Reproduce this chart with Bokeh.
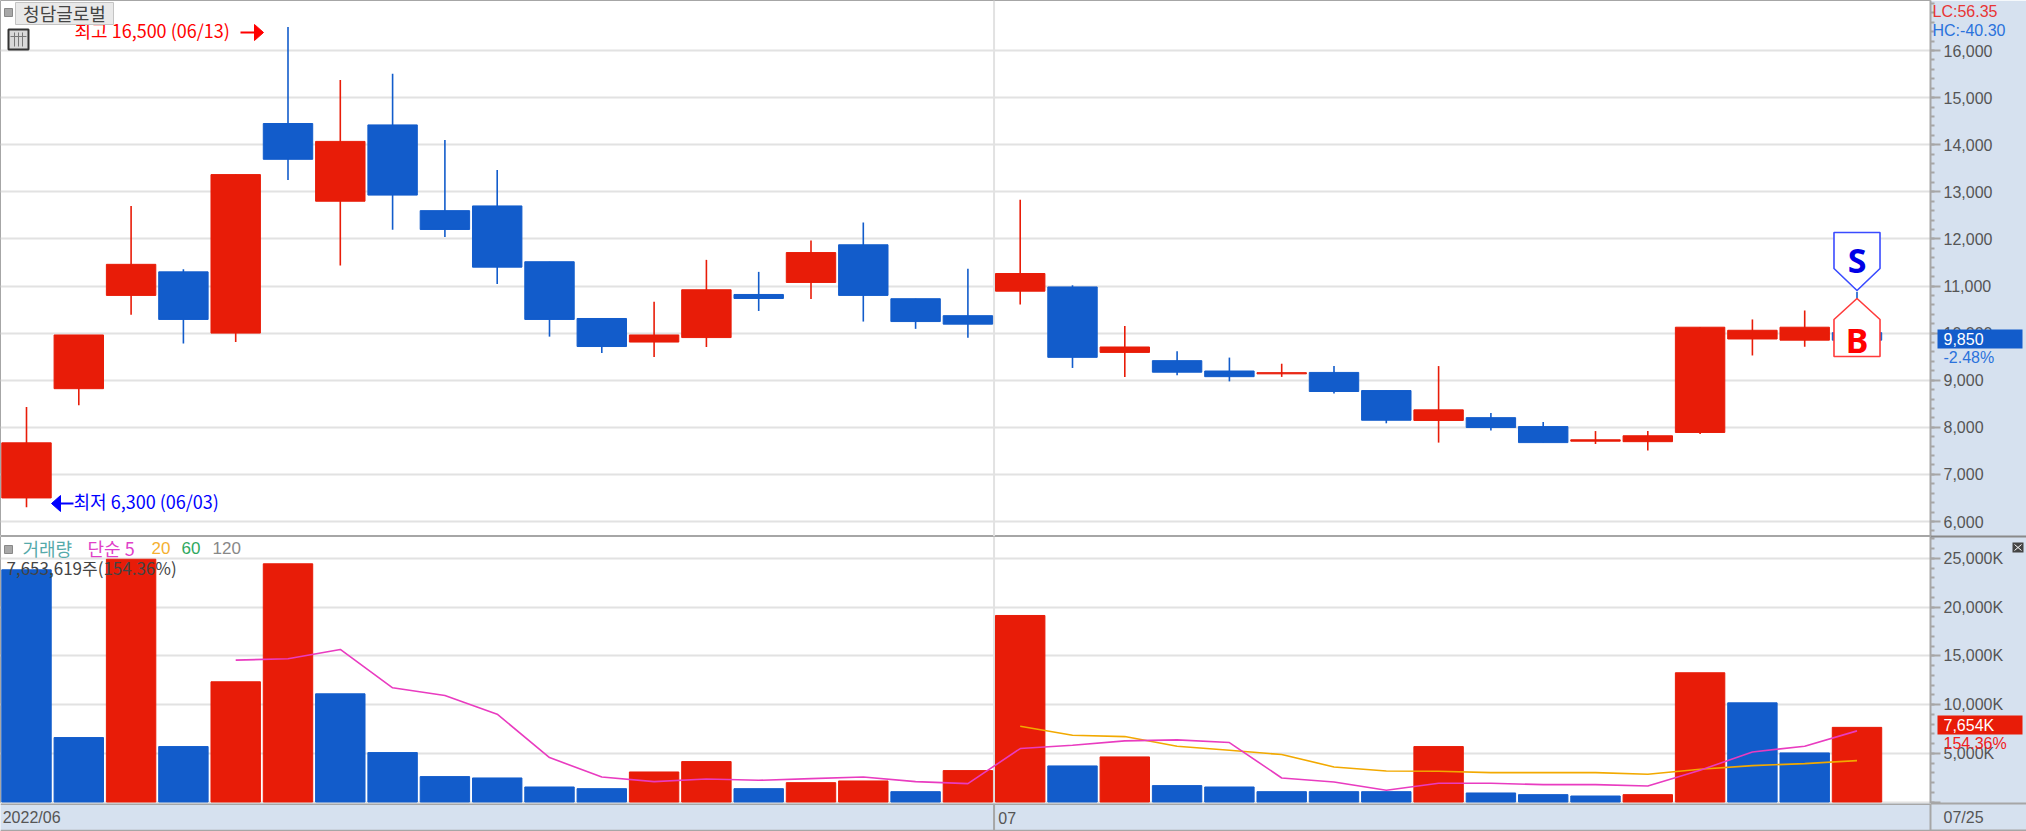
from bokeh.plotting import figure
from bokeh.layouts import column, row
from bokeh.models import Range1d, FixedTicker, NumeralTickFormatter, Span
from bokeh.core.properties import value
from bokeh.embed import file_html
from bokeh.resources import INLINE

# ---------- data ----------
opens  = [6500, 8820, 10800, 11300, 10000, 14450, 12800, 14420, 12600, 12700, 11515, 10310, 9810, 9905, 10820, 11075, 11875, 10730, 10370, 10890, 10980, 9590, 9415, 9195, 9135, 9165, 8780, 8145, 8205, 8015, 7705, 7695, 7890, 9875, 9850, 10010]
closes = [7670, 9960, 11460, 10290, 13365, 13690, 14070, 12930, 12200, 11400, 10290, 9715, 9960, 10920, 10735, 11710, 10800, 10245, 10190, 11265, 9485, 9705, 9170, 9075, 9160, 8760, 8150, 8370, 7995, 7675, 7735, 7820, 10125, 10060, 10125, 9850]
highs  = [8430, 9960, 12700, 11355, 13365, 16500, 15375, 15505, 14100, 13465, 11515, 10310, 10665, 11555, 11300, 11965, 12350, 10730, 11365, 12830, 11015, 10150, 9615, 9480, 9350, 9300, 8780, 9300, 8305, 8115, 7920, 7920, 10125, 10290, 10480, 10880]
lows   = [6300, 8470, 10390, 9780, 9810, 13250, 11435, 12195, 12040, 11045, 9925, 9580, 9490, 9705, 10470, 10725, 10245, 10090, 9900, 10605, 9260, 9070, 9105, 8975, 9070, 8720, 8085, 7675, 7930, 7675, 7645, 7510, 7860, 9525, 9710, 9500]
volumes = [23815, 6610, 24900, 5685, 12330, 24430, 11095, 5070, 2605, 2465, 1540, 1370, 3080, 4145, 1370, 1985, 2160, 1060, 3220, 19130, 3700, 4625, 1680, 1540, 1060, 1060, 1060, 5685, 925, 755, 615, 755, 13255, 10170, 5035, 7654]
vol_up = [0, 0, 1, 0, 1, 1, 0, 0, 0, 0, 0, 0, 1, 1, 0, 1, 1, 0, 1, 1, 0, 1, 0, 0, 0, 0, 0, 1, 0, 0, 0, 1, 1, 0, 0, 1]
ma5_idx = list(range(4, 36))
ma5  = [14555, 14690, 15650, 11710, 10925, 9005, 4555, 2570, 2090, 2365, 2225, 2395, 2570, 2090, 1885, 5480, 5820, 6265, 6370, 6095, 2465, 2055, 1200, 1920, 1920, 1780, 1780, 1645, 3255, 5135, 5720, 7295]
ma20_idx = list(range(19, 36))
ma20 = [7775, 6850, 6710, 5720, 5310, 4865, 3595, 3185, 3150, 3015, 3015, 3015, 2840, 3355, 3735, 3940, 4245]
price_ticks = list(range(6000, 17000, 1000))
price_minor = list(range(5800, 17200, 200))
vol_ticks = [0, 5000, 10000, 15000, 20000, 25000]
vol_labels = ["", "5,000K", "10,000K", "15,000K", "20,000K", "25,000K"]
vol_minor = list(range(0, 27200, 1000))
date_labels = ["2022/06", "07"]
date_pos = [-0.455, 18.58]
last_date = "07/25"
month_start = 18.5

# ---------- style ----------
RED, BLUE = "#E81C08", "#125CCB"
GRID, AXBG, AXLINE, TXT = "#E2E2E2", "#D6E1EF", "#A6A6A6", "#555555"
LAT, KR = "Liberation Sans", "Noto Sans CJK KR"
FS = "16px"
PITCH, X0 = 52.3, 26.0
FRAME_W, TOTAL_W, RIGHT = 1930, 2026, 96
XR = (-X0 / PITCH, (FRAME_W - X0) / PITCH)

def X(px):  return (px - X0) / PITCH
def PY(py): return 16000 - (py - 50) / 47.1 * 1000
def VY(py): return (801.5 - py) / 48.75 * 5000

cols = [RED if c >= o else BLUE for o, c in zip(opens, closes)]
vcols = [RED if u else BLUE for u in vol_up]
xs = list(range(len(opens)))

def style_axis(ax):
    ax.axis_line_color = AXLINE; ax.axis_line_width = 2
    ax.major_tick_line_color = AXLINE; ax.minor_tick_line_color = AXLINE
    ax.major_tick_line_width = 2; ax.minor_tick_line_width = 2
    ax.major_tick_in = 0; ax.major_tick_out = 10
    ax.minor_tick_in = 0; ax.minor_tick_out = 4
    ax.major_label_standoff = 3
    ax.major_label_text_color = TXT
    ax.major_label_text_font = LAT
    ax.major_label_text_font_size = FS

def base(h, yr):
    p = figure(width=TOTAL_W, height=h, x_range=Range1d(*XR), y_range=Range1d(*yr),
               toolbar_location=None, output_backend="svg", x_axis_location=None,
               y_axis_location="right", min_border_left=0, min_border_top=0,
               min_border_bottom=0, min_border_right=RIGHT,
               background_fill_color="white", border_fill_color=AXBG,
               outline_line_color=AXLINE, outline_line_width=1)
    style_axis(p.yaxis[0])
    p.xgrid.visible = False
    p.ygrid.grid_line_color = GRID; p.ygrid.grid_line_width = 2
    p.add_layout(Span(location=month_start, dimension="height", line_color=GRID, line_width=2, level="underlay"))
    return p

def txt(p, x, y, s, color, font=KR, size="18px", align="left", style="normal"):
    p.text(x=[x], y=[y], text=[s], text_color=color, text_font=value(font), text_font_size=size,
           text_align=align, text_baseline="middle", text_font_style=style)

# ---------- price panel ----------
P_H = 536
p = base(P_H, (PY(P_H), PY(0)))
p.yaxis[0].ticker = FixedTicker(ticks=price_ticks, minor_ticks=price_minor)
p.ygrid[0].ticker = FixedTicker(ticks=price_ticks)
p.yaxis[0].formatter = NumeralTickFormatter(format="0,0")
p.segment(xs, highs, xs, lows, line_color=cols, line_width=1.6)
p.vbar(x=xs, width=0.945, bottom=opens, top=closes, fill_color=cols, line_color=cols, line_width=1)

# S / B signal tags on the last candle
L = len(opens) - 1
hw = 0.44
p.patch([L-hw, L+hw, L+hw, L, L-hw], [PY(232), PY(232), PY(268), PY(290), PY(268)],
        fill_color="white", line_color="#3A4BFF", line_width=1.6)
p.patch([L-hw, L+hw, L+hw, L, L-hw], [PY(356), PY(356), PY(319), PY(298), PY(319)],
        fill_color="white", line_color="#FF3B3B", line_width=1.6)
txt(p, L, PY(259), "S", "#0000E6", font="Noto Sans", size="34px", align="center", style="bold")
txt(p, L, PY(339), "B", "#FF0000", font="Noto Sans", size="34px", align="center", style="bold")

# high / low notes
txt(p, X(74), PY(29), "최고 16,500 (06/13)", "#FF0000")
p.segment([X(240)], [PY(32)], [X(256)], [PY(32)], line_color="#FF0000", line_width=2)
p.patch([X(254), X(263), X(254)], [PY(24), PY(32), PY(40)], fill_color="#FF0000", line_color="#FF0000")
txt(p, X(73), PY(500), "최저 6,300 (06/03)", "#0000FF")
p.segment([X(58)], [PY(503)], [X(73)], [PY(503)], line_color="#0000FF", line_width=2)
p.patch([X(60), X(51), X(60)], [PY(495), PY(503), PY(511)], fill_color="#0000FF", line_color="#0000FF")

# title button and icons
p.quad(left=[X(15)], right=[X(113)], top=[PY(2)], bottom=[PY(24)], fill_color="#E9E9E9", line_color="#C4C4C4")
txt(p, X(64), PY(12), "청담글로벌", "#444444", align="center")
p.quad(left=[X(4)], right=[X(12)], top=[PY(8)], bottom=[PY(16)], fill_color="#A8A8A8", line_color="#888888")
p.quad(left=[X(8)], right=[X(28)], top=[PY(29)], bottom=[PY(49)], fill_color="#D8D8D8", line_color="#333333", line_width=2)
p.segment([X(14), X(18), X(22), X(10)], [PY(32), PY(32), PY(32), PY(36)],
          [X(14), X(18), X(22), X(26)], [PY(46), PY(46), PY(46), PY(36)], line_color="#777777", line_width=1)

# ---------- volume panel ----------
V_H = 267
q = base(V_H, (VY(803), VY(536)))
q.yaxis[0].ticker = FixedTicker(ticks=vol_ticks, minor_ticks=vol_minor)
q.ygrid[0].ticker = FixedTicker(ticks=vol_ticks)
q.yaxis[0].major_label_overrides = dict(zip(vol_ticks, vol_labels))
q.vbar(x=xs, width=0.945, bottom=0, top=volumes, fill_color=vcols, line_color=vcols, line_width=1)
q.line(ma20_idx, ma20, line_color="#F2A900", line_width=1.6)
q.line(ma5_idx, ma5, line_color="#E93CC0", line_width=1.6)

q.quad(left=[X(4)], right=[X(12)], top=[VY(545)], bottom=[VY(553)], fill_color="#A8A8A8", line_color="#888888")
txt(q, X(22), VY(547), "거래량", "#55AAAA")
txt(q, X(87), VY(547), "단순 5", "#E040C8")
txt(q, X(151), VY(547), "20", "#F5B030", font=LAT, size="17px")
txt(q, X(181), VY(547), "60", "#30A860", font=LAT, size="17px")
txt(q, X(212), VY(547), "120", "#888888", font=LAT, size="17px")
txt(q, X(6), VY(567), "7,653,619주(154.36%)", "#444444", size="17px")

# ---------- date strip ----------
S_H = 28
s = figure(width=TOTAL_W, height=S_H, x_range=Range1d(*XR), y_range=Range1d(0, 1),
           toolbar_location=None, output_backend="svg", x_axis_location=None, y_axis_location="right",
           min_border_left=0, min_border_top=0, min_border_bottom=0, min_border_right=RIGHT,
           background_fill_color=AXBG, border_fill_color=AXBG, outline_line_color=None)
style_axis(s.yaxis[0])
s.yaxis[0].ticker = FixedTicker(ticks=[0.5])
s.yaxis[0].major_label_overrides = {0.5: last_date}
s.yaxis[0].major_tick_out = 0
s.yaxis[0].major_label_standoff = 13
s.xgrid.visible = False; s.ygrid.visible = False
s.text(x=date_pos, y=[0.5]*2, text=date_labels, text_color=TXT, text_font=value(LAT), text_font_size=FS,
       text_align="left", text_baseline="middle")
s.segment([month_start], [0.05], [month_start], [1], line_color=AXLINE, line_width=2)
s.segment([XR[0]], [0.03], [XR[1]], [0.03], line_color=AXLINE, line_width=2)
s.segment([XR[0]], [0.98], [XR[1]], [0.98], line_color=AXLINE, line_width=2)

# ---------- current-value tags over the axis strip (page pixel coordinates) ----------
o = figure(width=RIGHT, height=P_H + V_H + S_H, x_range=Range1d(FRAME_W, TOTAL_W),
           y_range=Range1d(P_H + V_H + S_H, 0), toolbar_location=None, output_backend="svg",
           x_axis_location=None, y_axis_location=None, min_border=0,
           background_fill_alpha=0, border_fill_alpha=0, outline_line_color=None,
           margin=(0, 0, 0, -RIGHT))
o.xgrid.visible = False; o.ygrid.visible = False
o.quad(left=[1937, 1937], right=[2022, 2022], top=[329, 715], bottom=[348, 734], fill_color=[BLUE, RED], line_color=None)
def tag(px, py, s_, c):
    o.text(x=[px], y=[py], text=[s_], text_color=c, text_font=value(LAT), text_font_size=FS,
           text_align="left", text_baseline="middle")
tag(1932, 11, "LC:56.35", "#E83535")
tag(1932, 30, "HC:-40.30", "#2A72DC")
tag(1943, 338.5, "9,850", "white")
tag(1943, 357, "-2.48%", "#2A72DC")
tag(1943, 724.5, "7,654K", "white")
tag(1943, 743, "154.36%", "#F02020")
o.quad(left=[2012], right=[2023], top=[542], bottom=[552], fill_color="#444444", line_color=None)
o.segment([2014, 2014], [544, 550], [2021, 2021], [550, 544], line_color="white", line_width=1)
o.segment([FRAME_W, FRAME_W, FRAME_W], [536, 803, 830], [TOTAL_W, TOTAL_W, TOTAL_W], [536, 803, 830],
          line_color=[ "#8A8A8A", AXLINE, AXLINE], line_width=2)
p.outline_line_color = AXLINE

layout = row(column(p, q, s, spacing=0), o, spacing=0)
open("out.html", "w").write(file_html(layout, INLINE))
